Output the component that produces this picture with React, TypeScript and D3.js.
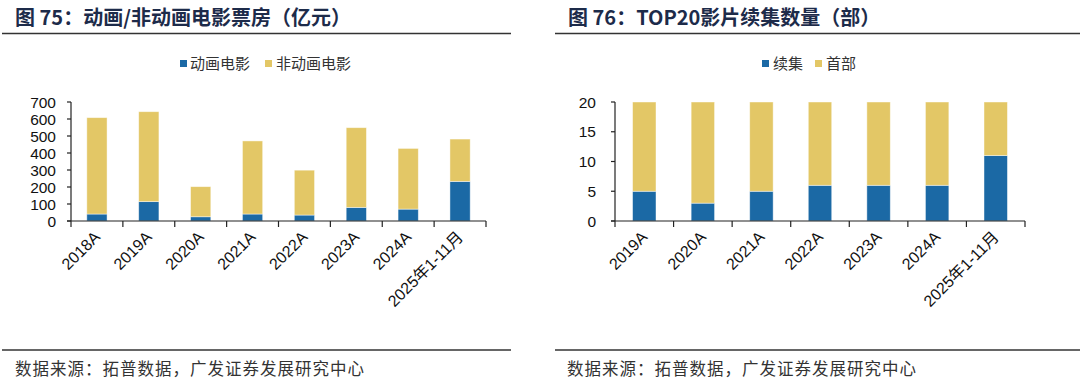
import React from "react";
import * as d3 from "d3";

const leftCategories = ["2018A", "2019A", "2020A", "2021A", "2022A", "2023A", "2024A", "2025年1-11月"];
const animationBox = [41, 114, 25, 41, 35, 80, 70, 233];
const nonAnimationBox = [567, 529, 177, 430, 264, 469, 357, 249];
const leftTicks = [0, 100, 200, 300, 400, 500, 600, 700];

const rightCategories = ["2019A", "2020A", "2021A", "2022A", "2023A", "2024A", "2025年1-11月"];
const sequelCount = [5, 3, 5, 6, 6, 6, 11];
const originalCount = [15, 17, 15, 14, 14, 14, 9];
const rightTicks = [0, 5, 10, 15, 20];

const BLUE = "#1b69a5";
const YELLOW = "#e3c766";
const AXIS = "#222";
const LATIN = "'Liberation Sans', Arial, 'Noto Sans CJK SC', sans-serif";
const CJK = "'Noto Sans CJK SC', 'Liberation Sans', sans-serif";

type PanelProps = {
  cats: string[];
  a: number[];
  b: number[];
  ticks: number[];
  yMax: number;
  x0: number;
  x1: number;
  labelEnd: number;
  barFrac: number;
};

function Panel({ cats, a, b, ticks, yMax, x0, x1, labelEnd, barFrac }: PanelProps) {
  const x = d3.scaleBand<string>().domain(cats).range([x0, x1]).padding(0);
  const y = d3.scaleLinear().domain([0, yMax]).range([221, 102]);
  const rows = cats.map((c, i) => ({ c, a: a[i], b: b[i] }));
  const stacked = d3.stack<any>().keys(["a", "b"])(rows);
  const bw = x.bandwidth() * barFrac;
  const boundaries = cats.map((c) => x(c)!).concat([x1]);
  return (
    <g>
      {stacked.map((s, si) => (
        <g key={si} fill={si === 0 ? BLUE : YELLOW}>
          {s.map((d: any, i: number) => {
            const cx = x(cats[i])! + x.bandwidth() / 2;
            return (
              <rect
                key={i}
                x={cx - bw / 2}
                y={y(d[1])}
                width={bw}
                height={y(d[0]) - y(d[1])}
                stroke="rgba(255,255,255,0.55)"
                strokeWidth={0.8}
              />
            );
          })}
        </g>
      ))}
      <line x1={x0} x2={x0} y1={y(yMax)} y2={y(0)} stroke={AXIS} strokeWidth={1.2} />
      {ticks.map((t) => (
        <g key={t}>
          <line x1={x0 - 4} x2={x0} y1={y(t)} y2={y(t)} stroke={AXIS} strokeWidth={1.2} />
          <text
            x={labelEnd}
            y={y(t)}
            dy="0.36em"
            textAnchor="end"
            fontFamily={LATIN}
            fontSize={15.5}
            fill="#111"
          >
            {t}
          </text>
        </g>
      ))}
      <line x1={x0 - 4} x2={x1} y1={y(0)} y2={y(0)} stroke={AXIS} strokeWidth={1.2} />
      {boundaries.map((bx, i) => (
        <line key={i} x1={bx} x2={bx} y1={y(0)} y2={y(0) + 6} stroke={AXIS} strokeWidth={1.2} />
      ))}
      {cats.map((c) => {
        const cx = x(c)! + x.bandwidth() / 2;
        return (
          <text
            key={c}
            transform={`translate(${cx},234) rotate(-45)`}
            textAnchor="end"
            dy="0.36em"
            fontFamily={LATIN}
            fontSize={16}
            fill="#111"
          >
            {c}
          </text>
        );
      })}
    </g>
  );
}

function Legend({ items }: { items: { label: string; color: string; sx: number; tx: number }[] }) {
  return (
    <g>
      {items.map((it) => (
        <g key={it.label}>
          <rect x={it.sx} y={60} width={7} height={7} fill={it.color} />
          <text x={it.tx} y={69} fontFamily={CJK} fontSize={15} fill="#333">
            {it.label}
          </text>
        </g>
      ))}
    </g>
  );
}

export default function App() {
  return (
    <svg
      width={1080}
      height={385}
      style={{ position: "absolute", left: 0, top: 0, background: "#fff" }}
    >
      <rect width={1080} height={385} fill="#fff" />
      <text x={15} y={25} fontFamily={CJK} fontWeight="bold" fontSize={20} fill="#1d2b4a">
        图 75：动画/非动画电影票房（亿元）
      </text>
      <text x={568} y={25} fontFamily={CJK} fontWeight="bold" fontSize={20} fill="#1d2b4a">
        图 76：TOP20影片续集数量（部）
      </text>
      <line x1={2} x2={511} y1={33.5} y2={33.5} stroke="#333" strokeWidth={1.5} />
      <line x1={555} x2={1080} y1={33.5} y2={33.5} stroke="#333" strokeWidth={1.5} />

      <Legend
        items={[
          { label: "动画电影", color: BLUE, sx: 180, tx: 190 },
          { label: "非动画电影", color: YELLOW, sx: 265, tx: 276 },
        ]}
      />
      <Legend
        items={[
          { label: "续集", color: BLUE, sx: 762, tx: 773 },
          { label: "首部", color: YELLOW, sx: 815, tx: 826 },
        ]}
      />

      <Panel
        cats={leftCategories}
        a={animationBox}
        b={nonAnimationBox}
        ticks={leftTicks}
        yMax={700}
        x0={71}
        x1={486}
        labelEnd={56}
        barFrac={0.39}
      />
      <Panel
        cats={rightCategories}
        a={sequelCount}
        b={originalCount}
        ticks={rightTicks}
        yMax={20}
        x0={615}
        x1={1025}
        labelEnd={596}
        barFrac={0.4}
      />

      <line x1={2} x2={511} y1={350} y2={350} stroke="#333" strokeWidth={1.5} />
      <line x1={555} x2={1080} y1={350} y2={350} stroke="#333" strokeWidth={1.5} />
      <text x={15} y={375} fontFamily={CJK} fontSize={16.5} letterSpacing={1} fill="#333">
        数据来源：拓普数据，广发证券发展研究中心
      </text>
      <text x={567} y={375} fontFamily={CJK} fontSize={16.5} letterSpacing={1} fill="#333">
        数据来源：拓普数据，广发证券发展研究中心
      </text>
    </svg>
  );
}
